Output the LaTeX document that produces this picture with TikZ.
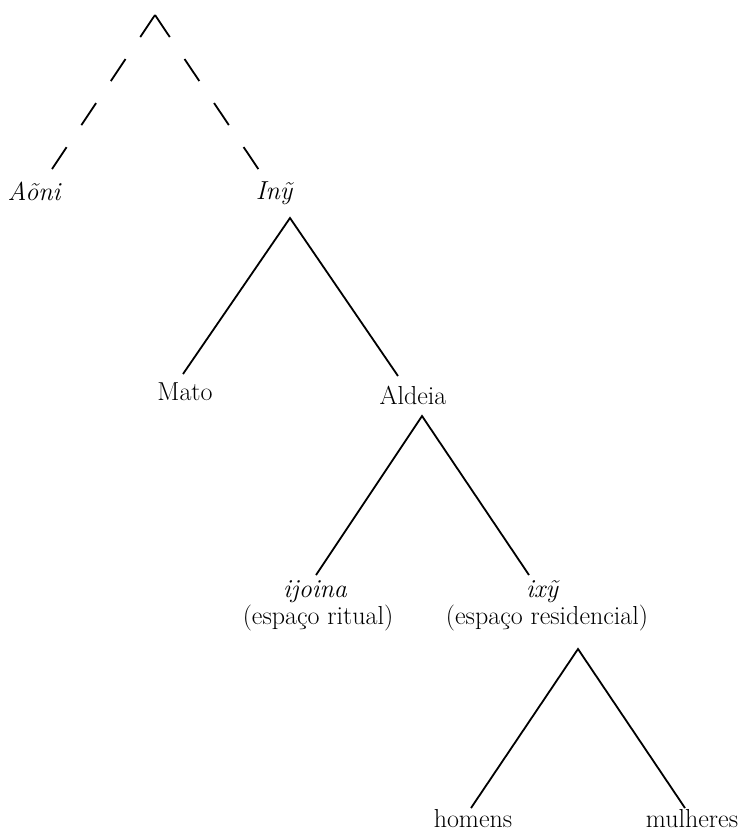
\documentclass[tikz,border=0pt]{standalone}
\usepackage{fontspec}
\begin{document}
\begin{tikzpicture}[x=1pt,y=-1pt,
  label/.style={anchor=base,inner sep=0pt,font=\fontsize{26}{30}\selectfont},
  term/.style={label,font=\fontsize{26}{30}\selectfont\itshape},
  branch/.style={line width=1.8pt,line cap=butt},
  dashbranch/.style={branch,dash pattern=on 26.5pt off 26.5pt}]
\useasboundingbox (0,0) rectangle (748,836);

% labels
\node[term]  (aoni)    at (34,200)  {Aõni};
\node[term]  (iny)     at (274,199) {Inỹ};
\node[label] (mato)    at (185,400) {Mato};
\node[label] (aldeia)  at (413,404) {Aldeia};
\node[term]  (ijoina)  at (315,597) {ijoina};
\node[label] (ritual)  at (318,624) {(espaço ritual)};
\node[term]  (ixy)     at (542,597) {ixỹ};
\node[label] (resid)   at (547,624) {(espaço residencial)};
\node[label] (homens)  at (473,827) {homens};
\node[label] (mulheres) at (692,827) {mulheres};

% branch points and branch ends
\coordinate (top)   at (155,15);
\coordinate (topL)  at (52,169);
\coordinate (topR)  at (259,170);
\coordinate (inyB)  at (290,218);
\coordinate (inyL)  at (183,374);
\coordinate (inyR)  at (398,376);
\coordinate (aldB)  at (422,416);
\coordinate (aldL)  at (316,575);
\coordinate (aldR)  at (529,575);
\coordinate (ixyB)  at (578,649);
\coordinate (ixyL)  at (471,808);
\coordinate (ixyR)  at (685,808);

% branches
\draw[dashbranch] (top) -- (topL);
\draw[dashbranch] (top) -- (topR);
\draw[branch] (inyL) -- (inyB) -- (inyR);
\draw[branch] (aldL) -- (aldB) -- (aldR);
\draw[branch] (ixyL) -- (ixyB) -- (ixyR);
\end{tikzpicture}
\end{document}
